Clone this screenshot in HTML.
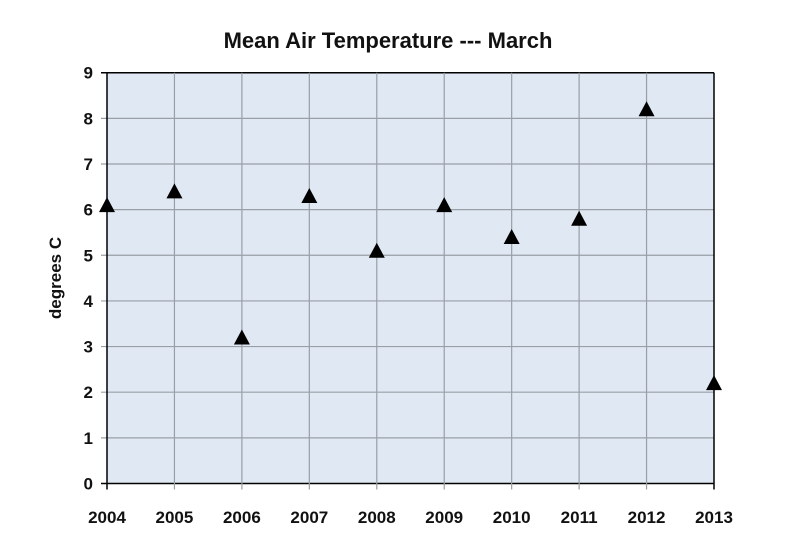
<!DOCTYPE html>
<html><head><meta charset="utf-8"><style>
body{margin:0;background:#fff;}
svg{display:block;font-family:"Liberation Sans",Arial,sans-serif;}
</style></head><body>
<svg id="chart" width="800" height="552"></svg>
<script>
const years=["2004","2005","2006","2007","2008","2009","2010","2011","2012","2013"];
const temps=[6.1,6.4,3.2,6.3,5.1,6.1,5.4,5.8,8.2,2.2];
const yTicks=[0,1,2,3,4,5,6,7,8,9];
const NS="http://www.w3.org/2000/svg";
const svg=document.getElementById('chart');
const L=107,R=714,T=72.7,B=483.5;
const xs=i=>L+(R-L)*i/(years.length-1);
const ys=v=>B-(B-T)*v/9;
function mk(tag,attrs,parent){const e=document.createElementNS(NS,tag);for(const k in attrs)e.setAttribute(k,attrs[k]);(parent||svg).appendChild(e);return e;}
const bg=mk('rect',{x:L,y:T,width:R-L,height:B-T,fill:'#e0e8f3'});


yTicks.forEach(v=>{
  const g=mk('line',{x1:L-6,x2:R,y1:ys(v),y2:ys(v),stroke:v===0||v===9?'#000':'#9a9fa6','stroke-width':v===0||v===9?1.5:1.2});
  
  
  const t=mk('text',{x:L-14,y:ys(v)+6,'text-anchor':'end','font-size':17,'font-weight':'bold',fill:'#111'});
  t.textContent=v;
  
  
});
years.forEach((yr,i)=>{
  const edge=i===0||i===years.length-1;
  const g=mk('line',{x1:xs(i),x2:xs(i),y1:T,y2:B+6,stroke:edge?'#000':'#9a9fa6','stroke-width':edge?1.5:1.2});
  
  
  const t=mk('text',{x:xs(i),y:523,'text-anchor':'middle','font-size':17,'font-weight':'bold',fill:'#111'});
  t.textContent=yr;
  
  
});
temps.forEach((v,i)=>{
  const x=xs(i),y=ys(v);
  const p=mk('polygon',{points:`${x},${y-8} ${x-8},${y+7} ${x+8},${y+7}`,fill:'#000'});
  
  
});
const title=mk('text',{x:388,y:48,'text-anchor':'middle','font-size':22,'font-weight':'bold',fill:'#111'});
title.textContent='Mean Air Temperature --- March';


const yl=mk('text',{x:0,y:0,'text-anchor':'middle','font-size':17,'font-weight':'bold',fill:'#111',transform:'translate(61,278) rotate(-90)'});
yl.textContent='degrees C';


</script>
</body></html>
